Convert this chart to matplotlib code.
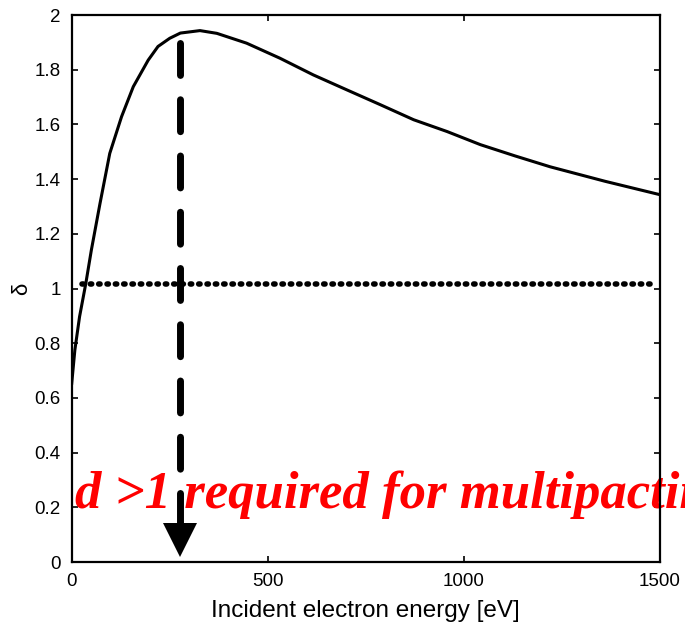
import matplotlib
matplotlib.use('Agg')
import matplotlib.pyplot as plt
import numpy as np

# Secondary electron yield vs incident energy
energy_ev = [0, 8, 20, 36, 50, 72, 97, 127, 157, 195, 220, 250, 277, 327,
             370, 446, 531, 616, 702, 787, 872, 957, 1042, 1130, 1220,
             1360, 1500]
yield_delta = [0.653, 0.775, 0.897, 1.019, 1.14, 1.31, 1.494, 1.628, 1.738,
               1.835, 1.885, 1.915, 1.934, 1.943, 1.933, 1.897, 1.842,
               1.781, 1.726, 1.672, 1.617, 1.574, 1.526, 1.485, 1.445,
               1.392, 1.343]

# unity-yield threshold line
threshold_e = [25, 1490]
threshold_delta = [1.016, 1.016]

# arrow marking the first crossover region
arrow_e = 275
arrow_top = 1.896
arrow_head = 0.082

note = 'd >1 required for multipacting'

plt.rcParams['font.family'] = ['Liberation Sans', 'DejaVu Sans']

fig = plt.figure(figsize=(6.85, 6.23), dpi=100)
ax = fig.add_axes([0.1047, 0.0979, 0.8588, 0.8780])

ax.plot(energy_ev, yield_delta, color='black', linewidth=2.2, zorder=3)
ax.plot(threshold_e, threshold_delta, color='black', linewidth=4.0,
        linestyle=(0, (0.25, 1.25)), dash_capstyle='round', zorder=3)
ax.plot([arrow_e, arrow_e], [arrow_top, arrow_head], color='black',
        linewidth=5.0, linestyle=(0, (4.6, 3.5)), dash_capstyle='round',
        zorder=4)
ax.plot(arrow_e, arrow_head, marker='v', markersize=24, color='black',
        markeredgewidth=0, zorder=5)

ax.text(0.006, 0.0985, note, transform=ax.transAxes, color='red',
        fontsize=38, fontweight='bold', fontstyle='italic',
        family='Liberation Serif', va='baseline', ha='left',
        clip_on=False, zorder=2)

ax.set_xlim(0, 1500)
ax.set_ylim(0, 2)
ax.set_xticks([0, 500, 1000, 1500])
ax.set_yticks(np.arange(0, 2.01, 0.2))
ax.set_yticklabels(['0', '0.2', '0.4', '0.6', '0.8', '1', '1.2', '1.4',
                    '1.6', '1.8', '2'])
ax.tick_params(direction='in', length=4, width=1.2, top=True, right=True,
               labelsize=13.5)
ax.tick_params(axis='x', pad=8)
ax.tick_params(axis='y', pad=8)
for sp in ax.spines.values():
    sp.set_linewidth(1.6)

ax.set_xlabel('Incident electron energy [eV]', fontsize=17.5, labelpad=7)
ax.set_ylabel('δ', fontsize=16)
ax.yaxis.set_label_coords(-0.067, 0.5)

fig.savefig('out.png', dpi=100)
